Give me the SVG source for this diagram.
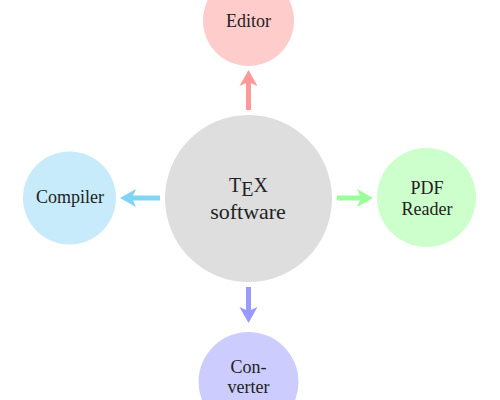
<svg xmlns="http://www.w3.org/2000/svg" width="500" height="400" viewBox="0 0 500 400">
<style>
text{font-family:"Liberation Serif","DejaVu Serif",serif;fill:#222;text-anchor:middle}
.lbl{font-size:18px}
.big{font-size:22px}
.tex{font-size:20px;text-anchor:start}
.shaft{stroke-width:5;fill:none}
</style>
<defs>
<marker id="hr" markerUnits="userSpaceOnUse" viewBox="-6 -10 20 20" markerWidth="20" markerHeight="20" refX="0" refY="0" orient="auto"><path d="M12,0 L-4,-9 L0,0 L-4,9 Z" fill="#ff9999"/></marker>
<marker id="hc" markerUnits="userSpaceOnUse" viewBox="-6 -10 20 20" markerWidth="20" markerHeight="20" refX="0" refY="0" orient="auto"><path d="M12,0 L-4,-9 L0,0 L-4,9 Z" fill="#80d4f4"/></marker>
<marker id="hg" markerUnits="userSpaceOnUse" viewBox="-6 -10 20 20" markerWidth="20" markerHeight="20" refX="0" refY="0" orient="auto"><path d="M12,0 L-4,-9 L0,0 L-4,9 Z" fill="#99ff99"/></marker>
<marker id="hb" markerUnits="userSpaceOnUse" viewBox="-6 -10 20 20" markerWidth="20" markerHeight="20" refX="0" refY="0" orient="auto"><path d="M12,0 L-4,-9 L0,0 L-4,9 Z" fill="#9999ff"/></marker>
</defs>
<g id="center">
<circle cx="248.5" cy="198.5" r="83.5" fill="#dedede"/>
<text class="tex" x="229" y="192">T</text>
<text class="tex" x="241.3" y="196">E</text>
<text class="tex" x="253.6" y="192">X</text>
<text class="big" x="248" y="219">software</text>
</g>
<g id="editor">
<circle cx="248.5" cy="20.5" r="45.5" fill="#ffcccc"/>
<text class="lbl" x="248.5" y="27">Editor</text>
</g>
<g id="compiler">
<circle cx="69.5" cy="198" r="46.5" fill="#c7ebfa"/>
<text class="lbl" x="70" y="203">Compiler</text>
</g>
<g id="pdfreader">
<circle cx="426.5" cy="197.5" r="49.5" fill="#ccffcc"/>
<text class="lbl" x="427" y="194">PDF</text>
<text class="lbl" x="427" y="215">Reader</text>
</g>
<g id="converter">
<circle cx="248.5" cy="382" r="50" fill="#ccccff"/>
<text class="lbl" x="248.5" y="373">Con-</text>
<text class="lbl" x="248.5" y="393">verter</text>
</g>
<g id="connectors">
<line class="shaft" x1="248.5" y1="110" x2="248.5" y2="82" stroke="#ff9999" marker-end="url(#hr)"/>
<line class="shaft" x1="160" y1="198" x2="132" y2="198" stroke="#80d4f4" marker-end="url(#hc)"/>
<line class="shaft" x1="337" y1="198" x2="361" y2="198" stroke="#99ff99" marker-end="url(#hg)"/>
<line class="shaft" x1="248.5" y1="287" x2="248.5" y2="311" stroke="#9999ff" marker-end="url(#hb)"/>
</g>
</svg>
